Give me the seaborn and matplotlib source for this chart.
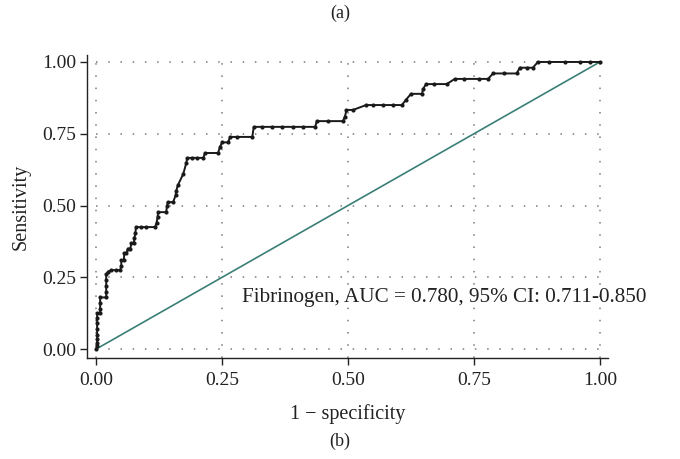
"""ROC curve for fibrinogen."""

import pandas as pd
import seaborn as sns
import matplotlib.pyplot as plt

# ROC vertices (1 - specificity, sensitivity)
FPR = [0, 0.002, 0.002, 0.002, 0.002, 0.002, 0.002, 0.002, 0.002, 0.008, 0.008,
       0.008, 0.008, 0.02, 0.02, 0.02, 0.02, 0.02, 0.024, 0.03, 0.04, 0.048,
       0.05, 0.05, 0.055, 0.056, 0.06, 0.063, 0.068, 0.07, 0.075, 0.076, 0.078,
       0.079, 0.09, 0.1, 0.117, 0.12, 0.122, 0.123, 0.139, 0.141, 0.142, 0.153,
       0.158, 0.159, 0.162, 0.173, 0.179, 0.181, 0.19, 0.2, 0.213, 0.216, 0.242,
       0.246, 0.25, 0.262, 0.266, 0.28, 0.31, 0.313, 0.33, 0.35, 0.37, 0.39,
       0.41, 0.435, 0.438, 0.46, 0.49, 0.494, 0.497, 0.51, 0.536, 0.55, 0.57,
       0.59, 0.607, 0.615, 0.625, 0.647, 0.649, 0.655, 0.67, 0.696, 0.712, 0.73,
       0.76, 0.778, 0.788, 0.81, 0.835, 0.841, 0.855, 0.867, 0.877, 0.9, 0.93,
       0.96, 0.98, 1.0]
TPR = [0, 0.01, 0.02, 0.035, 0.05, 0.07, 0.09, 0.11, 0.125, 0.125, 0.14,
       0.16, 0.18, 0.18, 0.2, 0.22, 0.24, 0.26, 0.27, 0.275, 0.275, 0.275,
       0.29, 0.31, 0.31, 0.334, 0.334, 0.35, 0.35, 0.37, 0.37, 0.387, 0.404,
       0.425, 0.425, 0.425, 0.425, 0.44, 0.46, 0.477, 0.477, 0.5, 0.512, 0.512,
       0.537, 0.55, 0.57, 0.61, 0.648, 0.666, 0.666, 0.666, 0.666, 0.683, 0.683,
       0.704, 0.72, 0.72, 0.739, 0.739, 0.739, 0.774, 0.774, 0.774, 0.774, 0.774,
       0.774, 0.774, 0.794, 0.794, 0.794, 0.81, 0.833, 0.833, 0.85, 0.85, 0.85,
       0.85, 0.85, 0.868, 0.889, 0.889, 0.906, 0.923, 0.923, 0.923, 0.941, 0.941,
       0.941, 0.941, 0.96, 0.96, 0.96, 0.98, 0.98, 0.98, 1.0, 1.0, 1.0,
       1.0, 1.0, 1.0]
REF = [0, 1]
TICKS = [0, 0.25, 0.5, 0.75, 1.0]
TICK_LABELS = ["0.00", "0.25", "0.50", "0.75", "1.00"]
LABEL = "Fibrinogen, AUC = 0.780, 95% CI: 0.711-0.850"

roc = pd.DataFrame({"fpr": FPR, "tpr": TPR})

sns.set_style("white")
plt.rcParams["font.family"] = ["Liberation Serif", "DejaVu Serif"]
INK = "#222222"

fig = plt.figure(figsize=(6.8, 4.59), dpi=100)
ax = fig.add_axes([0.128, 0.22, 0.766, 0.66])

for t in TICKS:
    ax.axhline(t, color="#7a7a7a", lw=1.1, ls=(0, (1, 7)), xmin=0.017, xmax=0.985, zorder=0)
    ax.axvline(t, color="#7a7a7a", lw=1.1, ls=(0, (1, 7)), zorder=0)

sns.lineplot(x=REF, y=REF, color="#3a7f77", linewidth=1.2, ax=ax)
sns.lineplot(roc, x="fpr", y="tpr", sort=False, estimator=None, color="#1a1a1a",
             linewidth=1.4, marker="o", markersize=3, markeredgewidth=0, ax=ax)

ax.set_xlim(-0.018, 1.016)
ax.set_ylim(-0.031, 1.024)
ax.set_xticks(TICKS, TICK_LABELS)
ax.set_yticks(TICKS, TICK_LABELS)
ax.tick_params(axis="both", labelsize=14, length=5, width=1, direction="out",
               color=INK, labelcolor=INK, left=True, bottom=True, pad=3)
ax.tick_params(axis="x", pad=5)
for side in ["top", "right"]:
    ax.spines[side].set_visible(False)
for side in ["left", "bottom"]:
    ax.spines[side].set_color(INK)
    ax.spines[side].set_linewidth(1.0)

ax.set_xlabel("1 \u2212 specificity", fontsize=14.5, color=INK, labelpad=11)
ax.set_ylabel("Sensitivity", fontsize=14.5, color=INK, labelpad=8)
ax.text(0.29, 0.18, LABEL, fontsize=15.2, color=INK, va="center", ha="left")

fig.text(0.5, 0.972, "(a)", ha="center", va="center", fontsize=13, color=INK)
fig.text(0.5, 0.038, "(b)", ha="center", va="center", fontsize=13, color=INK)

plt.savefig("out.png", dpi=100)
